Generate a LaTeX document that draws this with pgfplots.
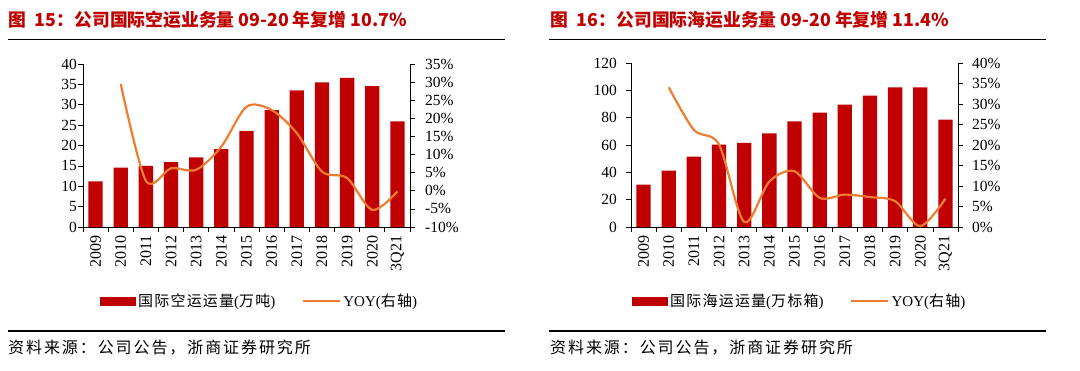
\documentclass[border=0pt]{standalone}
\usepackage{fontspec}
\setmainfont{Liberation Serif}
\newfontfamily\cjk{Noto Sans CJK SC}
\newfontfamily\cjkls{Noto Sans CJK SC}[LetterSpace=8]
\newfontfamily\cjksrc{Noto Sans CJK SC}[LetterSpace=12]
\usepackage{pgfplots}
\pgfplotsset{compat=1.18}
\definecolor{barred}{RGB}{192,0,0}
\definecolor{lineor}{RGB}{237,125,49}
\definecolor{titlered}{RGB}{192,0,0}
\pgfplotsset{
  common/.style={
    scale only axis, width=327pt,
    xmin=-0.5, xmax=12.5,
    tick align=outside,
    axis line style={-, black, line width=0.7pt},
    major tick length=5pt, minor tick length=5pt,
    every tick/.style={black, line width=0.7pt},
    /pgf/number format/assume math mode=true,
    yticklabel style={font=\fontsize{15.5}{15.5}\selectfont, inner sep=0pt},
  },
  barax/.style={
    common,
    axis x line*=bottom, axis y line*=left,
    xtick={0,...,12},
    xticklabels={2009,2010,2011,2012,2013,2014,2015,2016,2017,2018,2019,2020,3Q21},
    major x tick style={draw=none},
    minor xtick={-0.5,0.5,...,12.5},
    xticklabel style={rotate=90, anchor=east, font=\fontsize{16}{16}\selectfont},
  },
  lineax/.style={
    common,
    axis y line*=right, axis x line=none,
    yticklabel={\pgfmathprintnumber{\tick}\%},
    legend style={draw=none, fill=none, legend columns=2,
      font=\fontsize{15}{15}\selectfont,
      /tikz/every even column/.append style={column sep=24pt},
      nodes={inner sep=2.5pt}},
  },
}
\begin{document}
\begin{tikzpicture}
\path[use as bounding box] (0pt,0pt) rectangle (1080pt,-370pt);

% ---------------- left panel ----------------
\begin{axis}[barax, at={(83pt,-227pt)}, anchor=south west, height=163pt,
  ymin=0, ymax=40, ytick={0,5,...,40},
  yticklabel style={xshift=-1pt}]
\addplot[ybar, bar width=14.3pt, fill=barred, draw=none] coordinates {
(0,11.2) (1,14.6) (2,15.0) (3,15.9) (4,17.1) (5,19.1) (6,23.6)
(7,28.7) (8,33.5) (9,35.5) (10,36.6) (11,34.6) (12,25.9)};
\end{axis}
\begin{axis}[lineax, at={(83pt,-227pt)}, anchor=south west, height=163pt,
  ymin=-10, ymax=35, ytick={-10,-5,...,35},
  yticklabel style={xshift=10pt},
  legend style={at={(axis description cs:0.541,-0.454)}, anchor=center}]
\addlegendimage{legend image code/.code={\fill[barred] (0pt,-4pt) rectangle (35pt,4pt);}}
\addlegendentry{{\cjkls 国际空运运量}({\cjkls 万吨})}
\addplot[lineor, line width=2.2pt, smooth,
  legend image code/.code={\draw[lineor, line width=2pt] (0pt,0pt) -- (37pt,0pt);}]
  coordinates {
(1,29.5) (2,2.8) (3,6.2) (4,5.8) (5,12.2) (6,23.2) (7,22.3)
(8,15.9) (9,5.3) (10,3.5) (11,-5.3) (12,-0.2)};
\addlegendentry{YOY({\cjkls 右轴})}
\end{axis}

% ---------------- right panel ----------------
\begin{axis}[barax, at={(631pt,-227pt)}, anchor=south west, height=164pt,
  ymin=0, ymax=120, ytick={0,20,...,120},
  yticklabel style={xshift=-9pt}]
\addplot[ybar, bar width=14.3pt, fill=barred, draw=none] coordinates {
(0,31.0) (1,41.2) (2,51.5) (3,60.2) (4,61.5) (5,68.5) (6,77.3)
(7,83.7) (8,89.5) (9,96.1) (10,102.2) (11,102.2) (12,78.5)};
\end{axis}
\begin{axis}[lineax, at={(631pt,-227pt)}, anchor=south west, height=164pt,
  ymin=0, ymax=40, ytick={0,5,...,40},
  yticklabel style={xshift=9pt},
  legend style={at={(axis description cs:0.517,-0.451)}, anchor=center}]
\addlegendimage{legend image code/.code={\fill[barred] (0pt,-4pt) rectangle (35pt,4pt);}}
\addlegendentry{{\cjkls 国际海运运量}({\cjkls 万标箱})}
\addplot[lineor, line width=2.2pt, smooth,
  legend image code/.code={\draw[lineor, line width=2pt] (0pt,0pt) -- (37pt,0pt);}]
  coordinates {
(1,34.1) (2,23.7) (3,20.1) (4,1.2) (5,11.1) (6,13.6) (7,7.1)
(8,7.9) (9,7.3) (10,6.3) (11,0.2) (12,6.9)};
\addlegendentry{YOY({\cjkls 右轴})}
\end{axis}

% ---------------- titles, rules, sources ----------------
\node[anchor=west, inner sep=0pt, text=titlered,
  font=\cjk\bfseries\fontsize{17.8}{17.8}\selectfont] at (8pt,-20pt)
  {图\hspace{9pt}15：公司国际空运业务量 09-20 年复增 10.7\%};
\node[anchor=west, inner sep=0pt, text=titlered,
  font=\cjk\bfseries\fontsize{17.8}{17.8}\selectfont] at (550pt,-20pt)
  {图\hspace{9pt}16：公司国际海运业务量 09-20 年复增 11.4\%};
\draw[black, line width=1.2pt] (8pt,-39.5pt) -- (505pt,-39.5pt);
\draw[black, line width=1.2pt] (549pt,-39.5pt) -- (1046pt,-39.5pt);
\draw[black, line width=1.2pt] (8pt,-331pt) -- (505pt,-331pt);
\draw[black, line width=1.2pt] (549pt,-331pt) -- (1046pt,-331pt);
\node[anchor=west, inner sep=0pt, font=\cjksrc\fontsize{16}{16}\selectfont]
  at (8pt,-348pt) {资料来源：公司公告，浙商证券研究所};
\node[anchor=west, inner sep=0pt, font=\cjksrc\fontsize{16}{16}\selectfont]
  at (550pt,-348pt) {资料来源：公司公告，浙商证券研究所};
\end{tikzpicture}
\end{document}
